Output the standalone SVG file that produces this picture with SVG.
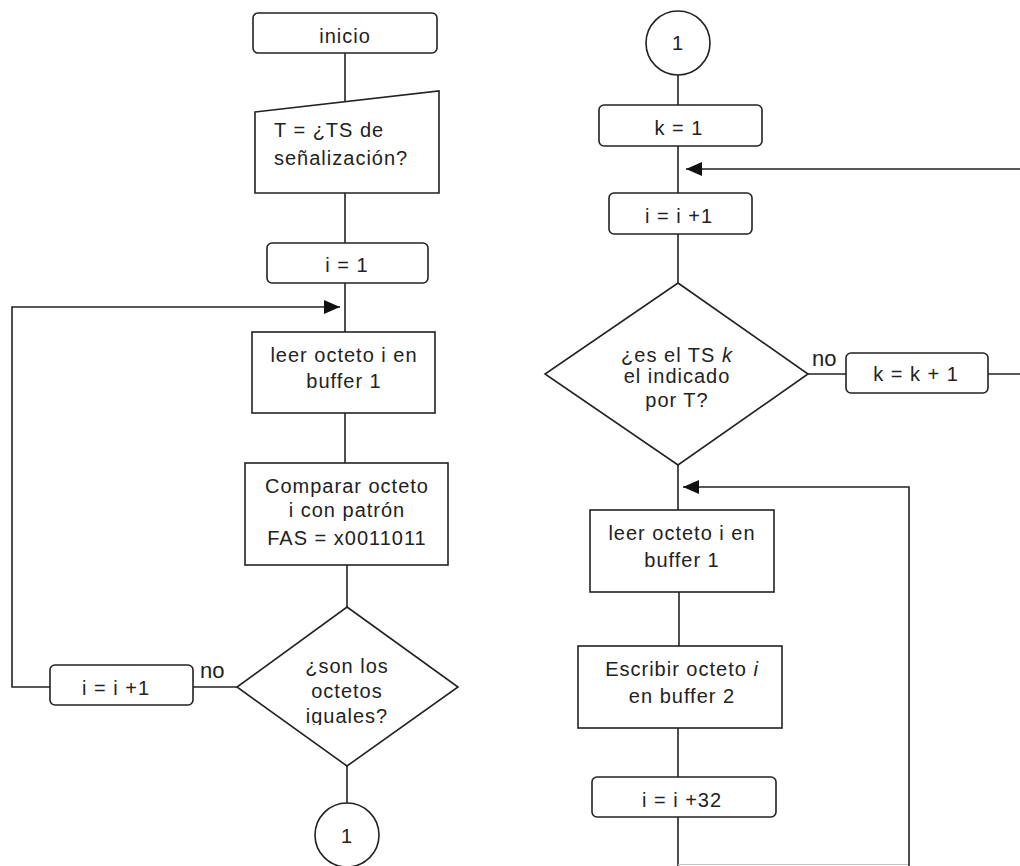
<svg xmlns="http://www.w3.org/2000/svg" width="1020" height="866" viewBox="0 0 1020 866">
  <style>
    .shape { fill: #ffffff; stroke: #222222; stroke-width: 1.6; }
    .wire { fill: none; stroke: #222222; stroke-width: 1.6; }
    .faint { fill: none; stroke: #c4c4c4; stroke-width: 1; }
    .label { font-family: "Liberation Sans", Arial, sans-serif; font-size: 20px; fill: #222222; letter-spacing: 1px; text-anchor: middle; }
    .left { text-anchor: start; }
    .it { font-style: italic; }
    .branch { font-family: "Liberation Sans", Arial, sans-serif; font-size: 22px; fill: #222222; }
  </style>
  <defs>
    <marker id="arrow" markerUnits="userSpaceOnUse" markerWidth="16" markerHeight="14" viewBox="0 0 16 14" refX="16" refY="7" orient="auto">
      <path d="M0,0 L16,7 L0,14 Z" fill="#111111"/>
    </marker>
    <clipPath id="clipIguales">
      <rect x="280" y="600" width="140" height="125"/>
    </clipPath>
  </defs>
  <rect x="0" y="0" width="1020" height="866" fill="#ffffff"/>

  <!-- connectors -->
  <g id="connectors">
    <!-- left column main flow -->
    <line class="wire" x1="345" y1="53" x2="345" y2="102"/>
    <line class="wire" x1="345" y1="193" x2="345" y2="243"/>
    <line class="wire" x1="345" y1="283" x2="345" y2="332"/>
    <line class="wire" x1="345" y1="413" x2="345" y2="463"/>
    <line class="wire" x1="347" y1="565" x2="347" y2="607"/>
    <line class="wire" x1="347" y1="766" x2="347" y2="803"/>
    <!-- "no" branch and loop back -->
    <line class="wire" x1="237" y1="687" x2="193" y2="687"/>
    <path class="wire" d="M50,687 H12 V307 H340" marker-end="url(#arrow)"/>

    <!-- right column main flow -->
    <line class="wire" x1="678" y1="75" x2="678" y2="105"/>
    <line class="wire" x1="678" y1="146" x2="678" y2="193"/>
    <line class="wire" x1="678" y1="234" x2="678" y2="283"/>
    <line class="wire" x1="678" y1="465" x2="678" y2="510"/>
    <line class="wire" x1="679" y1="592" x2="679" y2="646"/>
    <line class="wire" x1="678" y1="728" x2="678" y2="777"/>
    <!-- k = k + 1 branch and loop back -->
    <line class="wire" x1="808" y1="374" x2="846" y2="374"/>
    <path class="wire" d="M988,374 H1023 V169 H686" marker-end="url(#arrow)"/>
    <!-- i = i + 32 loop back, its bottom run sits on the lower edge -->
    <line class="wire" x1="678" y1="817" x2="678" y2="866"/>
    <line class="faint" x1="678" y1="864.5" x2="909" y2="864.5"/>
    <path class="wire" d="M909,866 V487 H683" marker-end="url(#arrow)"/>
  </g>

  <!-- left column nodes -->
  <g id="inicio">
    <rect class="shape" x="253" y="13" width="184" height="40" rx="5"/>
    <text class="label" x="345" y="43">inicio</text>
  </g>

  <g id="entrada-T">
    <path class="shape" d="M255,112 L439,91 L439,193 L255,193 Z"/>
    <text class="label left" x="274" y="137">T = ¿TS de</text>
    <text class="label left" x="274" y="165">señalización?</text>
  </g>

  <g id="i-igual-1">
    <rect class="shape" x="267" y="243" width="161" height="40" rx="5"/>
    <text class="label" x="347" y="272">i = 1</text>
  </g>

  <g id="leer-octeto-1">
    <rect class="shape" x="252" y="332" width="183" height="81"/>
    <text class="label" x="344" y="362">leer octeto i en</text>
    <text class="label" x="344" y="388">buffer 1</text>
  </g>

  <g id="comparar">
    <rect class="shape" x="245" y="463" width="203" height="102"/>
    <text class="label" x="347" y="493">Comparar octeto</text>
    <text class="label" x="347" y="517">i con patrón</text>
    <text class="label" x="347" y="545">FAS = x0011011</text>
  </g>

  <g id="son-iguales">
    <path class="shape" d="M347,607 L458,687 L347,766 L237,687 Z"/>
    <text class="label" x="347" y="673">¿son los</text>
    <text class="label" x="347" y="698">octetos</text>
    <text class="label" x="347" y="723" clip-path="url(#clipIguales)">iguales?</text>
    <text class="branch" x="200" y="678">no</text>
  </g>

  <g id="i-mas-1-izq">
    <rect class="shape" x="50" y="665" width="143" height="40" rx="5"/>
    <text class="label" x="116" y="695">i = i +1</text>
  </g>

  <g id="conector-1-salida">
    <circle class="shape" cx="347" cy="835" r="32"/>
    <text class="label" x="347" y="843">1</text>
  </g>

  <!-- right column nodes -->
  <g id="conector-1-entrada">
    <circle class="shape" cx="678" cy="43" r="32"/>
    <text class="label" x="678" y="50">1</text>
  </g>

  <g id="k-igual-1">
    <rect class="shape" x="599" y="105" width="163" height="41" rx="5"/>
    <text class="label" x="679" y="135">k = 1</text>
  </g>

  <g id="i-mas-1-der">
    <rect class="shape" x="609" y="193" width="143" height="41" rx="5"/>
    <text class="label" x="679" y="223">i = i +1</text>
  </g>

  <g id="es-TS-k">
    <path class="shape" d="M678,283 L808,374 L678,465 L545,374 Z"/>
    <text class="label" x="677" y="362">¿es el TS <tspan class="it">k</tspan></text>
    <text class="label" x="677" y="383">el indicado</text>
    <text class="label" x="677" y="407">por T?</text>
    <text class="branch" x="812" y="366">no</text>
  </g>

  <g id="k-mas-1">
    <rect class="shape" x="846" y="353" width="142" height="40" rx="5"/>
    <text class="label" x="916" y="381">k = k + 1</text>
  </g>

  <g id="leer-octeto-2">
    <rect class="shape" x="590" y="510" width="184" height="82"/>
    <text class="label" x="682" y="540">leer octeto i en</text>
    <text class="label" x="682" y="567">buffer 1</text>
  </g>

  <g id="escribir-octeto">
    <rect class="shape" x="578" y="646" width="204" height="82"/>
    <text class="label" x="682" y="676">Escribir octeto <tspan class="it">i</tspan></text>
    <text class="label" x="682" y="703">en buffer 2</text>
  </g>

  <g id="i-mas-32">
    <rect class="shape" x="592" y="777" width="184" height="40" rx="5"/>
    <text class="label" x="682" y="807">i = i +32</text>
  </g>
</svg>
